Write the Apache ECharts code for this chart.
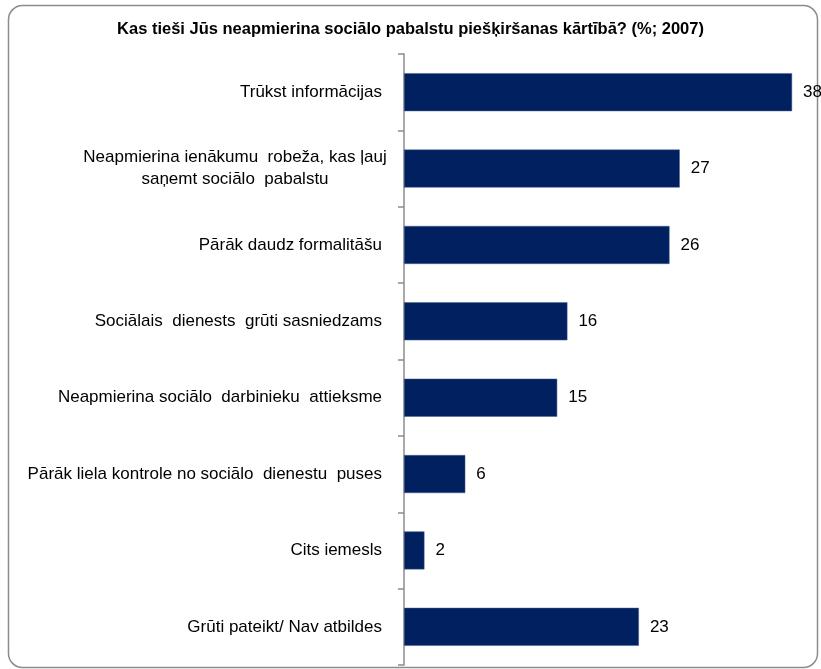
<!DOCTYPE html>
<html>
<head>
<meta charset="utf-8">
<title>index</title>
<style>
  html, body { margin: 0; padding: 0; background: #fff; }
  #container { width: 821px; height: 669px; }
</style>
</head>
<body>
<div id="container"></div>
<script src="https://cdn.jsdelivr.net/npm/echarts@6/dist/echarts.min.js"></script>
<script>
var titleText = 'Kas tieši Jūs neapmierina sociālo pabalstu piešķiršanas kārtībā? (%; 2007)';
var categories = [
  'Trūkst informācijas',
  'Neapmierina ienākumu  robeža, kas ļauj\nsaņemt sociālo  pabalstu',
  'Pārāk daudz formalitāšu',
  'Sociālais  dienests  grūti sasniedzams',
  'Neapmierina sociālo  darbinieku  attieksme',
  'Pārāk liela kontrole no sociālo  dienestu  puses',
  'Cits iemesls',
  'Grūti pateikt/ Nav atbildes'
];
var values = [38, 27, 26, 16, 15, 6, 2, 23];

var chart = echarts.init(document.getElementById('container'));

var option = {
  backgroundColor: '#fff',
  animation: false,
  title: {
    text: titleText,
    left: 'center',
    top: 16,
    textStyle: {
      fontFamily: 'Liberation Sans',
      fontSize: 16.5,
      fontWeight: 'bold',
      color: '#000'
    }
  },
  graphic: [{
    type: 'rect',
    shape: { x: 8.5, y: 5.5, width: 809, height: 662, r: 14 },
    style: { fill: 'none', stroke: '#8c8c8c', lineWidth: 1.5 },
    z: -1
  }],
  grid: { left: 404, top: 54, right: 8.5, bottom: 4, containLabel: false },
  xAxis: {
    type: 'value',
    min: 0,
    max: 40,
    show: false
  },
  yAxis: {
    type: 'category',
    data: categories,
    inverse: true,
    axisLine: { show: true, lineStyle: { color: '#8c8c8c', width: 1.5 } },
    axisTick: { show: true, length: 6, lineStyle: { color: '#8c8c8c', width: 1.5 } },
    axisLabel: {
      margin: 12,
      fontFamily: 'Liberation Sans',
      fontSize: 17,
      color: '#000',
      formatter: function (v) {
        if (v.indexOf('\n') >= 0) return '{m|' + v.split('\n').join('}\n{m|') + '}';
        return '{n|' + v + '}';
      },
      rich: {
        n: { fontFamily: 'Liberation Sans', fontSize: 17, color: '#000', padding: [0, 10, 0, 0] },
        m: { fontFamily: 'Liberation Sans', fontSize: 17, color: '#000', width: 314, align: 'center', lineHeight: 22 }
      }
    }
  },
  series: [{
    type: 'bar',
    data: values,
    barWidth: 38,
    itemStyle: { color: '#002060', borderColor: '#4a5f8f', borderWidth: 0.5 },
    label: {
      show: true,
      position: 'right',
      distance: 11,
      fontFamily: 'Liberation Sans',
      fontSize: 17,
      color: '#000'
    }
  }]
};

chart.setOption(option);
</script>
</body>
</html>
